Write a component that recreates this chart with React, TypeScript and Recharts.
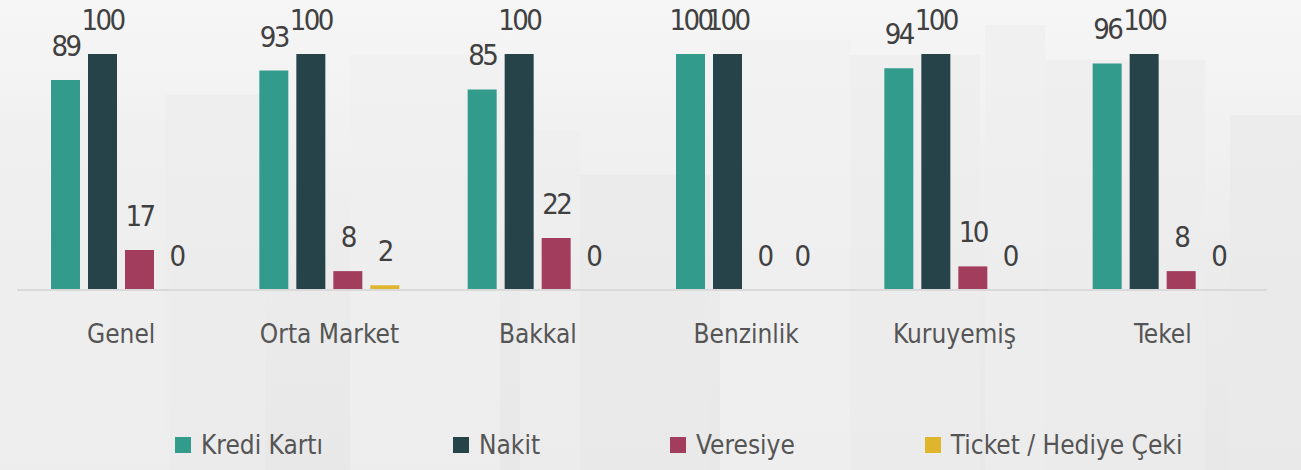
import { Bar, BarChart, LabelList, XAxis, YAxis } from "recharts"

const categories = ["Genel", "Orta Market", "Bakkal", "Benzinlik", "Kuruyemiş", "Tekel"]
const krediKarti = [89, 93, 85, 100, 94, 96]
const nakit = [100, 100, 100, 100, 100, 100]
const veresiye = [17, 8, 22, 0, 10, 8]
const ticket = [0, 2, 0, 0, 0, 0]

const series = [
  { key: "kredi", name: "Kredi Kartı", color: "#329b8c" },
  { key: "nakit", name: "Nakit", color: "#26434a" },
  { key: "veresiye", name: "Veresiye", color: "#a33d5e" },
  { key: "ticket", name: "Ticket / Hediye Çeki", color: "#e0b52e" },
]

const data = categories.map((name, i) => ({
  name,
  kredi: krediKarti[i],
  nakit: nakit[i],
  veresiye: veresiye[i],
  ticket: ticket[i],
}))

const FONT = '"DejaVu Sans Condensed", "Liberation Sans Narrow", sans-serif'

// skyline shapes in the background, just decoration
const skyline = [
  { l: 0, t: 120, w: 170, h: 350, c: "#efefef" },
  { l: 165, t: 95, w: 100, h: 375, c: "#ededed" },
  { l: 350, t: 55, w: 150, h: 415, c: "#f0f0f0" },
  { l: 520, t: 130, w: 60, h: 340, c: "#eeeeee" },
  { l: 580, t: 175, w: 130, h: 295, c: "#e9e9e9" },
  { l: 720, t: 40, w: 130, h: 430, c: "#f1f1f1" },
  { l: 850, t: 55, w: 130, h: 415, c: "#ededed" },
  { l: 985, t: 25, w: 60, h: 445, c: "#eeeeee" },
  { l: 1045, t: 60, w: 160, h: 410, c: "#ececec" },
  { l: 1230, t: 115, w: 71, h: 355, c: "#e9e9e9" },
]

const renderLabel = (props: any) => {
  const { x, y, width, value } = props
  return (
    <text
      x={x + width / 2}
      y={y - 24}
      textAnchor="middle"
      fill="#404040"
      fontSize={29}
      letterSpacing={-2.6}
      fontFamily={FONT}
    >
      {value}
    </text>
  )
}

const CategoryTick = (props: any) => {
  const { x, y, payload } = props
  return (
    <text x={x} y={y + 45} textAnchor="middle" fill="#555" fontSize={26} fontFamily={FONT}>
      {payload.value}
    </text>
  )
}

export default function App() {
  return (
    <div
      style={{
        position: "fixed",
        left: 0,
        top: 0,
        width: 1301,
        height: 470,
        overflow: "hidden",
        background: "linear-gradient(#f6f6f6, #ebebeb 60%, #e8e8e8)",
      }}
    >
      {skyline.map((s, i) => (
        <div
          key={i}
          style={{
            position: "absolute",
            left: s.l,
            top: s.t,
            width: s.w,
            height: s.h,
            background: s.c,
            opacity: 0.7,
          }}
        />
      ))}
      <div style={{ position: "absolute", left: 0, top: 0 }}>
        <BarChart
          width={1301}
          height={470}
          data={data}
          margin={{ top: 54, right: 34, left: 17, bottom: 130 }}
          barCategoryGap={34}
          barGap={8}
        >
          <XAxis
            dataKey="name"
            height={50}
            tickLine={false}
            axisLine={{ stroke: "#d9d9d9", strokeWidth: 2 }}
            tick={<CategoryTick />}
            interval={0}
          />
          <YAxis hide domain={[0, 100]} />
          {series.map((s) => (
            <Bar
              key={s.key}
              dataKey={s.key}
              name={s.name}
              fill={s.color}
              barSize={29}
              minPointSize={0.01}
              isAnimationActive={false}
            >
              <LabelList dataKey={s.key} content={renderLabel} />
            </Bar>
          ))}
        </BarChart>
      </div>
      <div
        style={{
          position: "absolute",
          left: 175,
          top: 430,
          display: "flex",
          gap: 130,
          fontFamily: FONT,
          fontSize: 26,
          color: "#555",
          whiteSpace: "nowrap",
        }}
      >
        {series.map((s) => (
          <div key={s.key} style={{ display: "flex", alignItems: "center" }}>
            <span style={{ width: 16, height: 16, background: s.color, marginRight: 10 }} />
            <span>{s.name}</span>
          </div>
        ))}
      </div>
    </div>
  )
}
